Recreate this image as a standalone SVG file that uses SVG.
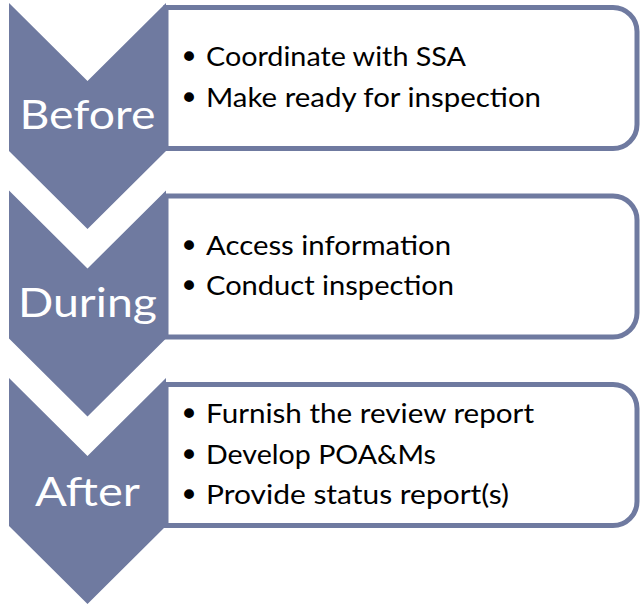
<svg xmlns="http://www.w3.org/2000/svg" width="640" height="605" viewBox="0 0 640 605">
  <style>
    .box { fill: #ffffff; stroke: #6f7aa0; stroke-width: 5; }
    .chev { fill: #6f7aa0; }
    .stage { font-family: Lato, "Open Sans", "Liberation Sans", sans-serif; font-size: 41px; fill: #ffffff; text-anchor: middle; }
    .item { font-family: Lato, "Open Sans", "Liberation Sans", sans-serif; font-size: 27.5px; fill: #000000; }
    .dot { font-family: "DejaVu Sans", sans-serif; font-size: 34px; fill: #000000; text-anchor: middle; }
  </style>
  <defs>
    <!-- downward chevron, 157 wide, notch and point 78 deep -->
    <path id="chevron" d="M9,0 L87.5,78 L166,0 L166,148 L87.5,226 L9,148 Z"/>
    <!-- text panel, rounded on the right only; left side tucks against the chevron -->
    <path id="panel" d="M166,0 H613 A24,24 0 0 1 637,24 V117 A24,24 0 0 1 613,141 H166 Z"/>
  </defs>

  <g id="before">
    <use href="#panel" class="box" transform="translate(0,7.5)"/>
    <use href="#chevron" class="chev" transform="translate(0,3)"/>
    <text class="stage" x="87.5" y="128.5" textLength="136" lengthAdjust="spacingAndGlyphs">Before</text>
    <text class="dot" x="189" y="69">•</text>
    <text class="item" x="206" y="66" textLength="260" lengthAdjust="spacingAndGlyphs">Coordinate with SSA</text>
    <text class="dot" x="189" y="109.5">•</text>
    <text class="item" x="206" y="106.5" textLength="335" lengthAdjust="spacingAndGlyphs">Make ready for inspection</text>
  </g>

  <g id="during">
    <use href="#panel" class="box" transform="translate(0,196)"/>
    <use href="#chevron" class="chev" transform="translate(0,190.5)"/>
    <text class="stage" x="87.5" y="317" textLength="139" lengthAdjust="spacingAndGlyphs">During</text>
    <text class="dot" x="189" y="257.5">•</text>
    <text class="item" x="206" y="254.5" textLength="245" lengthAdjust="spacingAndGlyphs">Access information</text>
    <text class="dot" x="189" y="298">•</text>
    <text class="item" x="206" y="295" textLength="248" lengthAdjust="spacingAndGlyphs">Conduct inspection</text>
  </g>

  <g id="after">
    <use href="#panel" class="box" transform="translate(0,384.5)"/>
    <use href="#chevron" class="chev" transform="translate(0,378)"/>
    <text class="stage" x="87.5" y="505.5" textLength="105" lengthAdjust="spacingAndGlyphs">After</text>
    <text class="dot" x="189" y="426">•</text>
    <text class="item" x="206" y="423" textLength="328" lengthAdjust="spacingAndGlyphs">Furnish the review report</text>
    <text class="dot" x="189" y="466.5">•</text>
    <text class="item" x="206" y="463.5" textLength="230" lengthAdjust="spacingAndGlyphs">Develop POA&amp;Ms</text>
    <text class="dot" x="189" y="507">•</text>
    <text class="item" x="206" y="504" textLength="303" lengthAdjust="spacingAndGlyphs">Provide status report(s)</text>
  </g>

  <g id="connectors"/>
</svg>
